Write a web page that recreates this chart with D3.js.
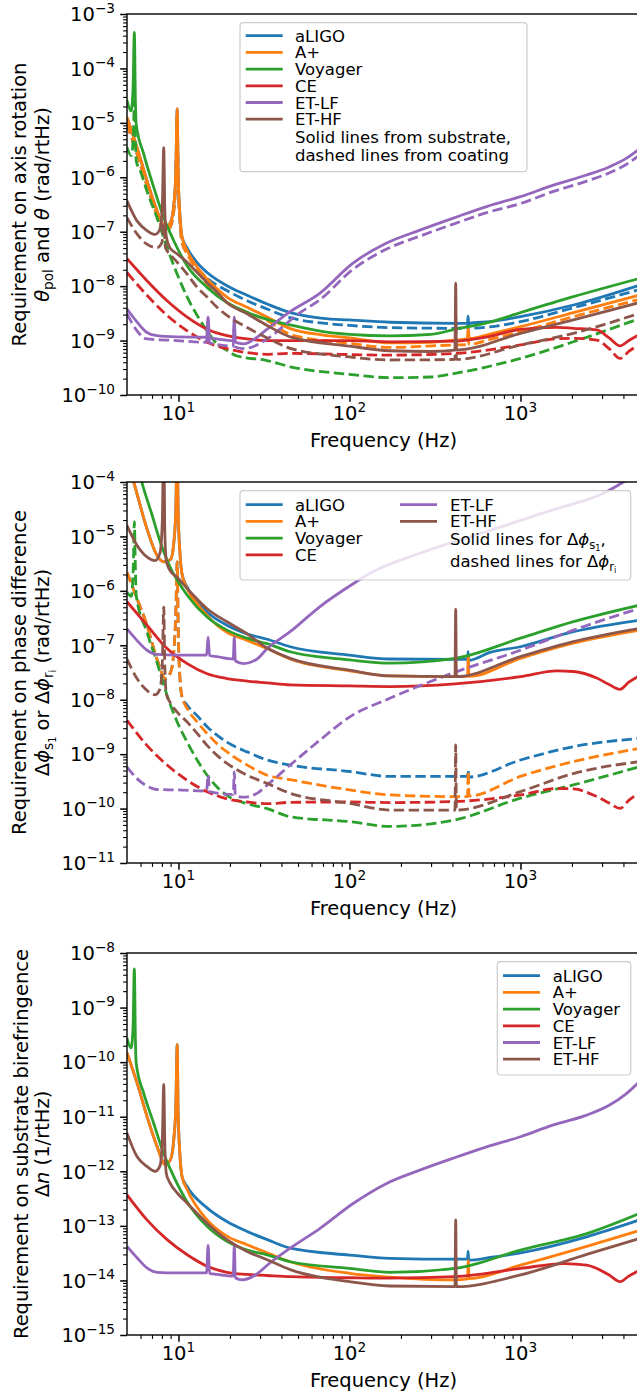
<!DOCTYPE html>
<html>
<head>
<meta charset="utf-8">
<script src="https://cdn.jsdelivr.net/npm/d3@7"></script>
<style>
  body { margin: 0; background: #fff; }
  text { font-family: "DejaVu Sans", sans-serif; fill: #000; }
</style>
</head>
<body>
<svg id="chart" width="637" height="1395"></svg>
<script>
// detectors and colours
var detectors = ["aLIGO", "A+", "Voyager", "CE", "ET-LF", "ET-HF"];
var colors = ["#1f77b4", "#ff7f0e", "#2ca02c", "#d62728", "#9467bd", "#8c564b"];

// tick values
var xMajor = [10, 100, 1000];
var xMinor = [6, 7, 8, 9, 20, 30, 40, 50, 60, 70, 80, 90, 200, 300, 400, 500, 600, 700, 800, 900, 2000, 3000, 4000];

// ---------- panel 1: axis rotation (solid = substrate, dashed = coating) ----------
var rot_sub_aLIGO = [[5,1.26e-5],[5.72,3.55e-6],[6.54,8.7e-7],[7.48,2.45e-7],[7.9,1.58e-7],[8.4,1.2e-7],[9.0,1.5e-7],[9.4,3.2e-7],[9.65,1.26e-6],[9.83,1.8e-5],[9.95,1.26e-6],[10.2,2.0e-7],[10.5,7.9e-8],[11.25,5.0e-8],[12.86,2.7e-8],[14.7,1.78e-8],[19.2,1.02e-8],[25.2,6.8e-9],[33,4.7e-9],[45,3.26e-9],[70,2.56e-9],[100,2.39e-9],[172,2.17e-9],[414,2.07e-9],[490,2.08e-9],[494,2.8e-9],[498,1.9e-9],[503,2.08e-9],[664,2.23e-9],[1000,2.75e-9],[2040,4.5e-9],[5000,1.05e-8]];
var rot_sub_Aplus = [[5,1.26e-5],[5.72,3.55e-6],[6.54,8.7e-7],[7.48,2.45e-7],[7.9,1.58e-7],[8.4,1.2e-7],[9.0,1.5e-7],[9.4,3.2e-7],[9.65,1.26e-6],[9.83,1.8e-5],[9.95,1.26e-6],[10.2,2.0e-7],[10.5,7.9e-8],[11.25,4.47e-8],[12.86,2.24e-8],[14.7,1.35e-8],[16.8,8.9e-9],[19.2,6.3e-9],[25.2,4.1e-9],[33,2.7e-9],[45,1.66e-9],[70,1.26e-9],[100,1.12e-9],[172,9.1e-10],[300,9.3e-10],[414,1.02e-9],[488,1.07e-9],[495,1.7e-9],[502,1.08e-9],[664,1.32e-9],[1000,1.8e-9],[2040,3.26e-9],[5000,6.9e-9]];
var rot_sub_Voyager = [[5,2.6e-5],[5.28,1.66e-5],[5.42,4e-5],[5.52,4.6e-4],[5.6,2.5e-5],[5.66,9.5e-6],[6.26,2.7e-6],[7.16,6.6e-7],[8.18,1.84e-7],[9.37,6.9e-8],[11.2,2.4e-8],[14.7,9.5e-9],[19.2,5.0e-9],[25.2,3.3e-9],[33,2.45e-9],[45,1.94e-9],[70,1.46e-9],[100,1.3e-9],[172,1.22e-9],[300,1.3e-9],[414,1.61e-9],[664,2.19e-9],[1000,3.26e-9],[2040,6.4e-9],[5000,1.39e-8]];
var rot_sub_CE = [[5,3.2e-8],[6.54,1.26e-8],[8.58,5.4e-9],[11.25,2.7e-9],[14.7,1.62e-9],[19.2,1.23e-9],[25.2,1.07e-9],[33,1.0e-9],[45,1.0e-9],[100,1.0e-9],[172,9.5e-10],[414,9.8e-10],[664,1.2e-9],[1000,1.61e-9],[1630,1.75e-9],[2040,1.68e-9],[2790,1.57e-9],[3300,1.12e-9],[3820,8.0e-10],[4300,1.0e-9],[5000,1.32e-9]];
var rot_sub_ETLF = [[5,3.8e-9],[5.72,2.2e-9],[6.54,1.41e-9],[7.48,1.23e-9],[9.83,1.17e-9],[14.6,1.15e-9],[14.9,2.7e-9],[15.2,1.12e-9],[16.8,1.07e-9],[20.9,1.0e-9],[21.2,2.7e-9],[21.5,9.3e-10],[24,8.7e-10],[28.8,1.15e-9],[33,1.62e-9],[45,3.4e-9],[67,7.4e-9],[104,2.6e-8],[165,6.2e-8],[258,1.07e-7],[405,1.78e-7],[634,2.9e-7],[1000,4.4e-7],[1560,7.2e-7],[2440,1.1e-6],[3300,1.55e-6],[4130,2.2e-6],[5000,3.4e-6]];
var rot_sub_ETHF = [[5,3.7e-7],[5.72,1.58e-7],[6.54,1.05e-7],[7.3,8.9e-8],[7.8,1.12e-7],[8.05,3.2e-7],[8.2,3.5e-6],[8.32,2.5e-7],[8.5,7.9e-8],[8.9,5.1e-8],[9.83,3.9e-8],[11.25,2.75e-8],[12.86,1.78e-8],[14.7,1.17e-8],[16.8,7.8e-9],[19.2,5.0e-9],[25.2,3.1e-9],[33,1.9e-9],[45,1.17e-9],[100,7.9e-10],[172,6.5e-10],[300,6.3e-10],[414,6.7e-10],[418,1.13e-8],[422,6.7e-10],[1000,1.36e-9],[2040,2.39e-9],[5000,5.0e-9]];

var rot_coat_aLIGO = [[5,9.5e-6],[5.72,2.7e-6],[6.54,7.1e-7],[7.48,2.1e-7],[8.4,1.0e-7],[9.0,1.26e-7],[9.4,2.5e-7],[9.65,1.0e-6],[9.83,1.26e-5],[9.95,1.0e-6],[10.2,1.58e-7],[10.5,6.3e-8],[11.25,4.0e-8],[14.7,1.41e-8],[19.2,8.3e-9],[25.2,5.4e-9],[33,3.8e-9],[45,2.63e-9],[70,2.09e-9],[100,1.9e-9],[172,1.73e-9],[414,1.68e-9],[490,1.69e-9],[494,2.0e-9],[498,1.69e-9],[664,1.78e-9],[1000,2.23e-9],[2040,4.0e-9],[5000,8.7e-9]];
var rot_coat_Aplus = [[5,9.5e-6],[5.72,2.7e-6],[6.54,7.1e-7],[7.48,2.1e-7],[8.4,1.0e-7],[9.0,1.26e-7],[9.4,2.5e-7],[9.65,1.0e-6],[9.83,1.26e-5],[9.95,1.0e-6],[10.2,1.58e-7],[10.5,6.3e-8],[11.25,3.9e-8],[14.7,1.1e-8],[19.2,5.0e-9],[25.2,3.3e-9],[33,2.34e-9],[45,1.3e-9],[100,8.9e-10],[172,7.5e-10],[414,8.3e-10],[490,8.4e-10],[495,1.1e-9],[500,8.5e-10],[664,1.05e-9],[1000,1.46e-9],[2040,2.75e-9],[5000,5.75e-9]];
var rot_coat_Voyager = [[5,3.55e-6],[5.3,2.5e-6],[5.45,6e-6],[5.52,2.5e-5],[5.6,5e-6],[5.66,2.0e-6],[5.98,1.32e-6],[6.54,5.6e-7],[7.48,1.82e-7],[8.58,5.1e-8],[9.83,1.66e-8],[11.25,6.3e-9],[12.86,2.9e-9],[14.7,1.51e-9],[16.8,8.7e-10],[19.2,6.6e-10],[22,5.2e-10],[33,4.3e-10],[45,3.3e-10],[100,2.4e-10],[172,2.08e-10],[300,2.14e-10],[414,2.5e-10],[1000,4.7e-10],[2040,9.5e-10],[5000,2.56e-9]];
var rot_coat_CE = [[5,1.78e-8],[6.54,6.8e-9],[8.58,2.9e-9],[11.25,1.51e-9],[14.7,9.3e-10],[19.2,7.1e-10],[25.2,6.0e-10],[33,5.6e-10],[45,5.8e-10],[172,5.4e-10],[414,5.8e-10],[1000,8.3e-10],[1630,1.08e-9],[2040,1.1e-9],[2790,1.02e-9],[3300,7.1e-10],[3820,4.7e-10],[4300,6.3e-10],[5000,8.7e-10]];
var rot_coat_ETLF = [[5,3.1e-9],[5.72,1.51e-9],[6.54,1.07e-9],[9.83,1.0e-9],[14.6,9.3e-10],[14.9,1.86e-9],[15.2,9.1e-10],[20.9,7.9e-10],[21.2,2.0e-9],[21.5,7.6e-10],[24,7.1e-10],[28.8,8.3e-10],[33,1.07e-9],[51,3.2e-9],[67,5.6e-9],[104,2.0e-8],[165,4.8e-8],[258,8.3e-8],[405,1.38e-7],[634,2.24e-7],[1000,3.3e-7],[1560,5.5e-7],[2440,8.5e-7],[3300,1.2e-6],[4130,1.7e-6],[5000,2.6e-6]];
var rot_coat_ETHF = [[5,1.82e-7],[5.72,9.1e-8],[6.54,5.9e-8],[7.48,5.1e-8],[8.0,6.3e-8],[8.2,1.38e-7],[8.4,5.0e-8],[8.9,3.9e-8],[9.83,2.75e-8],[11.25,1.66e-8],[12.86,9.5e-9],[14.7,6.3e-9],[16.8,4.1e-9],[19.2,2.9e-9],[25.2,1.74e-9],[33,1.12e-9],[45,7.2e-10],[100,5.0e-10],[172,4.4e-10],[414,4.5e-10],[418,3.0e-9],[422,4.5e-10],[1000,8.3e-10],[2040,1.36e-9],[5000,3.2e-9]];

// ---------- panel 2: phase difference (solid = dphi_s1, dashed = dphi_ri) ----------
var ph_s_aLIGO = [[5,2.5e-4],[5.47,1.0e-4],[6.54,1.38e-5],[7.48,4.5e-6],[8.2,3.4e-6],[9.0,3.8e-6],[9.4,7.9e-6],[9.65,3.2e-5],[9.83,4.5e-4],[9.95,3.2e-5],[10.2,5.0e-6],[10.5,2.0e-6],[11.25,1.17e-6],[14.7,4.1e-7],[19.2,2.34e-7],[25.2,1.62e-7],[33,1.29e-7],[45,9.4e-8],[100,6.6e-8],[172,5.6e-8],[414,5.5e-8],[490,5.5e-8],[494,7.6e-8],[498,5.3e-8],[664,7.4e-8],[1000,9.4e-8],[2040,1.78e-7],[5000,2.9e-7]];
var ph_s_Aplus = [[5,2.5e-4],[5.47,1.0e-4],[6.54,1.38e-5],[7.48,4.5e-6],[8.2,3.4e-6],[9.0,3.8e-6],[9.4,7.9e-6],[9.65,3.2e-5],[9.83,4.5e-4],[9.95,3.2e-5],[10.2,5.0e-6],[10.5,2.0e-6],[11.25,1.1e-6],[12.86,5.75e-7],[14.7,3.55e-7],[16.8,2.34e-7],[19.2,1.74e-7],[25.2,1.23e-7],[33,8.7e-8],[45,5.6e-8],[100,3.4e-8],[172,2.73e-8],[414,2.65e-8],[490,2.7e-8],[495,6.2e-8],[500,2.7e-8],[1000,5.75e-8],[2040,1.09e-7],[5000,1.9e-7]];
var ph_s_Voyager = [[5,1.6e-3],[6.1,1.0e-4],[7.0,2.5e-5],[7.83,7.9e-6],[8.9,2.8e-6],[9.83,1.58e-6],[11.25,8.3e-7],[14.7,3.3e-7],[19.2,1.9e-7],[25.2,1.35e-7],[33,1.07e-7],[45,7.6e-8],[100,5.4e-8],[172,4.7e-8],[414,5.75e-8],[1000,1.35e-7],[2040,2.72e-7],[5000,5.5e-7]];
var ph_s_CE = [[5,6.3e-7],[6.54,2.34e-7],[8.58,8.7e-8],[11.25,4.6e-8],[14.7,3.0e-8],[19.2,2.45e-8],[25.2,2.2e-8],[33,2.04e-8],[45,1.87e-8],[100,1.79e-8],[172,1.74e-8],[414,1.95e-8],[1000,2.65e-8],[1630,3.4e-8],[2040,3.3e-8],[2790,2.5e-8],[3300,1.9e-8],[3820,1.55e-8],[4300,2.1e-8],[5000,2.8e-8]];
var ph_s_ETLF = [[5,2.0e-7],[5.72,1.23e-7],[6.54,8.1e-8],[7.48,6.8e-8],[9.83,6.6e-8],[14.6,6.6e-8],[14.9,1.41e-7],[15.2,6.5e-8],[16.8,6.2e-8],[20.9,5.6e-8],[21.2,1.41e-7],[21.5,5.2e-8],[24,4.6e-8],[28.8,5.6e-8],[33,8.7e-8],[45,1.78e-7],[67,5.1e-7],[104,1.32e-6],[132,2.1e-6],[258,4.9e-6],[634,1.23e-5],[1560,3.1e-5],[3050,6.2e-5],[4000,1.0e-4],[5000,1.6e-4]];
var ph_s_ETHF = [[5,1.58e-5],[5.72,6.9e-6],[6.54,4.2e-6],[7.3,3.6e-6],[7.8,5.0e-6],[8.05,2.0e-5],[8.2,1.0e-3],[8.32,1.26e-5],[8.5,3.5e-6],[8.9,2.4e-6],[9.83,1.78e-6],[11.25,1.1e-6],[14.7,4.7e-7],[19.2,2.7e-7],[25.2,1.62e-7],[33,8.9e-8],[45,5.75e-8],[100,3.5e-8],[172,2.73e-8],[414,2.65e-8],[418,4.6e-7],[422,2.65e-8],[1000,6.2e-8],[2040,1.17e-7],[5000,2.05e-7]];

var ph_r_aLIGO = [[5,2.2e-6],[5.72,7.2e-7],[6.54,2.34e-7],[7.48,5.6e-8],[8.4,2.45e-8],[9.0,3.2e-8],[9.4,7.9e-8],[9.65,4.0e-7],[9.83,3.4e-6],[9.95,2.5e-7],[10.2,2.5e-8],[10.5,1.12e-8],[11.25,7.9e-9],[12.86,5.1e-9],[14.7,3.2e-9],[16.8,2.24e-9],[19.2,1.66e-9],[25.2,1.1e-9],[33,7.8e-10],[45,6.3e-10],[100,4.8e-10],[172,3.9e-10],[414,3.9e-10],[490,3.9e-10],[494,5.1e-10],[498,3.8e-10],[1000,7.8e-10],[2040,1.37e-9],[5000,1.95e-9]];
var ph_r_Aplus = [[5,2.2e-6],[5.72,7.2e-7],[6.54,2.34e-7],[7.48,5.6e-8],[8.4,2.45e-8],[9.0,3.2e-8],[9.4,7.9e-8],[9.65,4.0e-7],[9.83,3.4e-6],[9.95,2.5e-7],[10.2,2.5e-8],[10.5,1.12e-8],[11.25,6.9e-9],[12.86,3.9e-9],[14.7,2.4e-9],[16.8,1.55e-9],[19.2,1.1e-9],[25.2,6.3e-10],[33,4.1e-10],[45,3.4e-10],[100,2.2e-10],[172,1.78e-10],[414,1.66e-10],[490,1.66e-10],[495,4.8e-10],[500,1.7e-10],[1000,3.9e-10],[2040,7.3e-10],[5000,1.28e-9]];
var ph_r_Voyager = [[5,9.5e-7],[5.3,7.9e-7],[5.45,3.2e-6],[5.52,1.86e-5],[5.6,2.5e-6],[5.66,8.3e-7],[6.54,1.74e-7],[7.48,4.9e-8],[8.58,1.2e-8],[9.83,3.9e-9],[11.25,1.66e-9],[12.86,7.8e-10],[14.7,4.1e-10],[16.8,2.5e-10],[19.2,1.74e-10],[25.2,1.23e-10],[33,1.0e-10],[45,7.1e-11],[100,5.75e-11],[172,4.7e-11],[414,6.2e-11],[1000,1.55e-10],[2040,2.72e-10],[5000,5.9e-10]];
var ph_r_CE = [[5,4.2e-9],[6.54,1.45e-9],[8.58,6.3e-10],[11.25,3.3e-10],[14.7,2.04e-10],[19.2,1.51e-10],[25.2,1.32e-10],[33,1.23e-10],[45,1.3e-10],[100,1.32e-10],[172,1.29e-10],[414,1.35e-10],[1000,1.78e-10],[1630,2.34e-10],[2040,2.3e-10],[2790,1.66e-10],[3300,1.26e-10],[3820,1.01e-10],[4300,1.41e-10],[5000,2.0e-10]];
var ph_r_ETLF = [[5,5.8e-10],[5.72,3.55e-10],[6.54,2.6e-10],[7.48,2.24e-10],[9.83,2.2e-10],[14.6,2.1e-10],[14.9,4.1e-10],[15.2,2.05e-10],[20.9,1.82e-10],[21.2,4.7e-10],[21.5,1.75e-10],[24,1.62e-10],[28.8,1.9e-10],[33,2.7e-10],[45,6.3e-10],[67,1.8e-9],[100,4.8e-9],[172,1.06e-8],[414,3.2e-8],[1000,8.1e-8],[2040,1.9e-7],[5000,4.8e-7]];
var ph_r_ETHF = [[5,5.6e-8],[5.72,2.45e-8],[6.54,1.48e-8],[7.3,1.23e-8],[7.8,1.58e-8],[8.05,5.0e-8],[8.2,5.0e-7],[8.32,4.0e-8],[8.5,1.26e-8],[8.9,9.1e-9],[9.83,5.9e-9],[11.25,3.9e-9],[12.86,2.4e-9],[14.7,1.45e-9],[16.8,9.5e-10],[19.2,6.8e-10],[25.2,4.1e-10],[33,2.9e-10],[45,1.91e-10],[100,1.25e-10],[172,9.4e-11],[414,9.4e-11],[418,1.48e-9],[422,9.4e-11],[1000,2.05e-10],[2040,4.4e-10],[5000,7.3e-10]];

// ---------- panel 3: substrate birefringence ----------
var bir_aLIGO = [[5,1.48e-10],[5.72,4.2e-11],[6.54,1.02e-11],[7.48,2.9e-12],[8.4,1.32e-12],[9.0,1.66e-12],[9.4,4.0e-12],[9.65,1.58e-11],[9.83,2.1e-10],[9.95,1.26e-11],[10.2,2.0e-12],[10.5,7.9e-13],[11.25,5.2e-13],[14.7,2.14e-13],[19.2,1.2e-13],[25.2,7.9e-14],[33,5.6e-14],[45,3.9e-14],[100,2.92e-14],[172,2.54e-14],[414,2.45e-14],[490,2.45e-14],[494,3.4e-14],[498,2.35e-14],[664,2.63e-14],[1000,3.2e-14],[2440,6.3e-14],[5000,1.29e-13]];
var bir_Aplus = [[5,1.48e-10],[5.72,4.2e-11],[6.54,1.02e-11],[7.48,2.9e-12],[8.4,1.32e-12],[9.0,1.66e-12],[9.4,4.0e-12],[9.65,1.58e-11],[9.83,2.1e-10],[9.95,1.26e-11],[10.2,2.0e-12],[10.5,7.9e-13],[11.25,4.6e-13],[14.7,1.29e-13],[19.2,6.5e-14],[25.2,4.5e-14],[33,3.2e-14],[45,2.2e-14],[100,1.35e-14],[172,1.15e-14],[414,1.02e-14],[490,1.07e-14],[495,2.3e-14],[500,1.08e-14],[1000,1.9e-14],[2440,4.2e-14],[5000,8.3e-14]];
var bir_Voyager = [[5,2.75e-10],[5.28,1.82e-10],[5.42,4.0e-10],[5.52,5.1e-9],[5.6,2.5e-10],[5.66,9.5e-11],[6.26,2.7e-11],[7.16,7.6e-12],[8.18,2.14e-12],[9.37,8.1e-13],[11.2,2.8e-13],[14.7,9.8e-14],[19.2,5.2e-14],[25.2,3.6e-14],[33,2.95e-14],[45,2.2e-14],[100,1.66e-14],[172,1.41e-14],[414,1.66e-14],[1000,3.6e-14],[2440,7.2e-14],[5000,1.7e-13]];
var bir_CE = [[5,3.7e-13],[6.54,1.29e-13],[8.58,5.6e-14],[11.25,2.95e-14],[14.7,1.82e-14],[19.2,1.41e-14],[25.2,1.29e-14],[33,1.23e-14],[45,1.17e-14],[100,1.12e-14],[172,1.1e-14],[414,1.17e-14],[1000,1.66e-14],[1800,2.04e-14],[2440,1.9e-14],[3300,1.26e-14],[3820,9.5e-15],[4300,1.2e-14],[5000,1.55e-14]];
var bir_ETLF = [[5,4.2e-14],[5.72,2.6e-14],[6.54,1.7e-14],[7.48,1.41e-14],[9.83,1.38e-14],[14.6,1.38e-14],[14.9,4.4e-14],[15.2,1.35e-14],[16.8,1.29e-14],[20.9,1.2e-14],[21.2,4.4e-14],[21.5,1.12e-14],[23.5,1.02e-14],[28.8,1.32e-14],[33,1.9e-14],[45,3.9e-14],[67,8.9e-14],[105,2.57e-13],[165,6.0e-13],[258,1.05e-12],[405,1.74e-12],[634,2.8e-12],[1000,4.3e-12],[1560,7.1e-12],[2440,1.07e-11],[3300,1.62e-11],[4130,2.6e-11],[5000,4.5e-11]];
var bir_ETHF = [[5,5.0e-12],[5.72,1.86e-12],[6.54,1.23e-12],[7.3,1.0e-12],[7.8,1.26e-12],[8.05,4.0e-12],[8.2,3.9e-11],[8.32,3.2e-12],[8.5,8.9e-13],[8.9,6.2e-13],[9.83,4.0e-13],[11.25,2.6e-13],[14.7,1.12e-13],[19.2,5.6e-14],[25.2,3.4e-14],[33,2.4e-14],[45,1.58e-14],[100,9.5e-15],[172,7.9e-15],[414,7.7e-15],[418,1.29e-13],[422,7.7e-15],[1000,1.26e-14],[2440,3.0e-14],[5000,5.9e-14]];

// ---------- layout ----------
var svg = d3.select("#chart");
var FS = 19.5;      // axis font
var LFS = 16.5;     // legend font
var LW = 2.8;

var xScale = d3.scaleLog().domain([5, 5000]).range([127, 640]);

var panels = [
  { top: 14, bottom: 395, yDom: [1e-10, 1e-3],
    solid: [rot_sub_aLIGO, rot_sub_Aplus, rot_sub_Voyager, rot_sub_CE, rot_sub_ETLF, rot_sub_ETHF],
    dashed: [rot_coat_aLIGO, rot_coat_Aplus, rot_coat_Voyager, rot_coat_CE, rot_coat_ETLF, rot_coat_ETHF],
    lab1: "Requirement on axis rotation", lab1x: 25.5,
    lab2: [{t:"θ", it:1}, {t:"pol", s:0.7, off:4.5}, {t:" and "}, {t:"θ", it:1}, {t:" (rad/rtHz)"}] },
  { top: 482, bottom: 863, yDom: [1e-11, 1e-4],
    solid: [ph_s_aLIGO, ph_s_Aplus, ph_s_Voyager, ph_s_CE, ph_s_ETLF, ph_s_ETHF],
    dashed: [ph_r_aLIGO, ph_r_Aplus, ph_r_Voyager, ph_r_CE, ph_r_ETLF, ph_r_ETHF],
    lab1: "Requirement on phase difference", lab1x: 26,
    lab2: [{t:"Δ"}, {t:"ϕ", it:1}, {t:"s", s:0.7, off:4.5}, {t:"1", s:0.5, off:7.5}, {t:" or Δ"}, {t:"ϕ", it:1},
           {t:"r", s:0.7, off:4.5}, {t:"i", s:0.5, off:7.5}, {t:" (rad/rtHz)"}] },
  { top: 953, bottom: 1335, yDom: [1e-15, 1e-8],
    solid: [bir_aLIGO, bir_Aplus, bir_Voyager, bir_CE, bir_ETLF, bir_ETHF],
    dashed: [],
    lab1: "Requirement on substrate birefringence", lab1x: 27.5,
    lab2: [{t:"Δ"}, {t:"n", it:1}, {t:" (1/rtHz)"}] }
];

// text with sub/superscripts; off = baseline offset in px (down positive), s = size factor
function richText(sel, parts, size) {
  var cur = 0;
  parts.forEach(function(p) {
    var off = p.off ? p.off * size / FS : 0;
    var ts = sel.append("tspan").text(p.t).attr("dy", off - cur);
    cur = off;
    if (p.s) ts.attr("font-size", size * p.s);
    if (p.it) ts.attr("font-style", "italic");
  });
  return sel;
}

function expParts(v) {
  var e = Math.round(Math.log10(v));
  return [{t:"10"}, {t:(e < 0 ? "−" : "") + Math.abs(e), s:0.7, off:-8.5}];
}

panels.forEach(function(p, pi) {
  var yScale = d3.scaleLog().domain(p.yDom).range([p.bottom, p.top]);
  var g = svg.append("g");

  var clipId = "clip" + pi;
  svg.append("clipPath").attr("id", clipId).append("rect")
     .attr("x", 127).attr("y", p.top).attr("width", 513).attr("height", p.bottom - p.top);

  // lines
  var line = d3.line()
               .x(function(d){ return xScale(d[0]); })
               .y(function(d){ return yScale(d[1]); })
               .curve(d3.curveMonotoneX);
  var plot = g.append("g").attr("clip-path", "url(#" + clipId + ")");
  detectors.forEach(function(name, i) {
    plot.append("path").datum(p.solid[i])
        .attr("d", line).attr("fill", "none")
        .attr("stroke", colors[i]).attr("stroke-width", LW)
        .attr("stroke-linejoin", "round").attr("stroke-linecap", "butt");
    if (p.dashed.length) {
      plot.append("path").datum(p.dashed[i])
          .attr("d", line).attr("fill", "none")
          .attr("stroke", colors[i]).attr("stroke-width", LW)
          .attr("stroke-dasharray", "10.4,4.5")
          .attr("stroke-linejoin", "round");
    }
  });

  // minor/major ticks
  var lo = Math.round(Math.log10(p.yDom[0])), hi = Math.round(Math.log10(p.yDom[1]));
  var yMajor = d3.range(lo, hi + 1).map(function(k){ return Math.pow(10, k); });
  var yMinor = [];
  d3.range(lo, hi).forEach(function(k) {
    for (var m = 2; m <= 9; m++) yMinor.push(m * Math.pow(10, k));
  });

  function tickStyle(sel, w) {
    sel.select(".domain").remove();
    sel.selectAll("line").attr("stroke", "#000").attr("stroke-width", w);
    sel.selectAll("text").remove();
  }
  g.append("g").attr("transform", "translate(127,0)")
   .call(d3.axisLeft(yScale).tickValues(yMinor).tickSize(3.9).tickSizeOuter(0))
   .call(tickStyle, 1.1);
  g.append("g").attr("transform", "translate(127,0)")
   .call(d3.axisLeft(yScale).tickValues(yMajor).tickSize(6.8).tickSizeOuter(0))
   .call(tickStyle, 1.5);
  g.append("g").attr("transform", "translate(0," + p.bottom + ")")
   .call(d3.axisBottom(xScale).tickValues(xMinor).tickSize(3.9).tickSizeOuter(0))
   .call(tickStyle, 1.1);
  g.append("g").attr("transform", "translate(0," + p.bottom + ")")
   .call(d3.axisBottom(xScale).tickValues(xMajor).tickSize(6.8).tickSizeOuter(0))
   .call(tickStyle, 1.5);

  // tick labels
  yMajor.forEach(function(v) {
    richText(g.append("text").attr("x", 115).attr("y", yScale(v) + 7.3)
              .attr("text-anchor", "end").attr("font-size", FS), expParts(v), FS);
  });
  xMajor.forEach(function(v) {
    richText(g.append("text").attr("x", xScale(v)).attr("y", p.bottom + 25)
              .attr("text-anchor", "middle").attr("font-size", FS), expParts(v), FS);
  });

  // frame
  g.append("rect").attr("x", 127).attr("y", p.top).attr("width", 513)
   .attr("height", p.bottom - p.top).attr("fill", "none")
   .attr("stroke", "#000").attr("stroke-width", 1.4);

  // axis labels
  g.append("text").attr("x", 383.5).attr("y", p.bottom + 52)
   .attr("text-anchor", "middle").attr("font-size", FS).text("Frequency (Hz)");
  var cy = (p.top + p.bottom) / 2;
  g.append("text").attr("transform", "translate(" + p.lab1x + "," + cy + ") rotate(-90)")
   .attr("text-anchor", "middle").attr("font-size", FS).text(p.lab1);
  richText(g.append("text").attr("transform", "translate(48.5," + cy + ") rotate(-90)")
            .attr("text-anchor", "middle").attr("font-size", FS), p.lab2, FS);

  p.g = g;
});

// ---------- legends ----------
function legendBox(g, x0, y0, x1, y1) {
  g.append("rect").attr("x", x0).attr("y", y0).attr("width", x1 - x0).attr("height", y1 - y0)
   .attr("rx", 3.5).attr("fill", "#fff").attr("fill-opacity", 0.8)
   .attr("stroke", "#cccccc").attr("stroke-width", 1.2);
}
function legendEntry(g, hx, tx, base, i) {
  g.append("line").attr("x1", hx).attr("x2", hx + 37).attr("y1", base - 6).attr("y2", base - 6)
   .attr("stroke", colors[i]).attr("stroke-width", LW);
  g.append("text").attr("x", tx).attr("y", base).attr("font-size", LFS).text(detectors[i]);
}

// panel 1 legend
var L1 = panels[0].g.append("g");
legendBox(L1, 240, 22.7, 527, 171.7);
detectors.forEach(function(d, i) { legendEntry(L1, 245.7, 295, 41.7 + i * 16.7, i); });
L1.append("text").attr("x", 295).attr("y", 143).attr("font-size", LFS).text("Solid lines from substrate,");
L1.append("text").attr("x", 295).attr("y", 161.3).attr("font-size", LFS).text("dashed lines from coating");

// panel 2 legend
var L2 = panels[1].g.append("g");
legendBox(L2, 240, 490.7, 630.7, 580);
[0, 1, 2, 3].forEach(function(i) { legendEntry(L2, 245.7, 295, 510.7 + i * 16.7, i); });
[4, 5].forEach(function(i, k) { legendEntry(L2, 400, 450, 510.7 + k * 16.7, i); });
richText(L2.append("text").attr("x", 450).attr("y", 545).attr("font-size", LFS),
  [{t:"Solid lines for Δ"}, {t:"ϕ", it:1}, {t:"s", s:0.7, off:4.5}, {t:"1", s:0.5, off:7.5}, {t:","}], LFS);
richText(L2.append("text").attr("x", 450).attr("y", 567).attr("font-size", LFS),
  [{t:"dashed lines for Δ"}, {t:"ϕ", it:1}, {t:"r", s:0.7, off:4.5}, {t:"i", s:0.5, off:7.5}], LFS);

// panel 3 legend
var L3 = panels[2].g.append("g");
legendBox(L3, 497.3, 961.7, 630.7, 1075);
detectors.forEach(function(d, i) { legendEntry(L3, 503, 552.7, 981.7 + i * 16.7, i); });
</script>
</body>
</html>
